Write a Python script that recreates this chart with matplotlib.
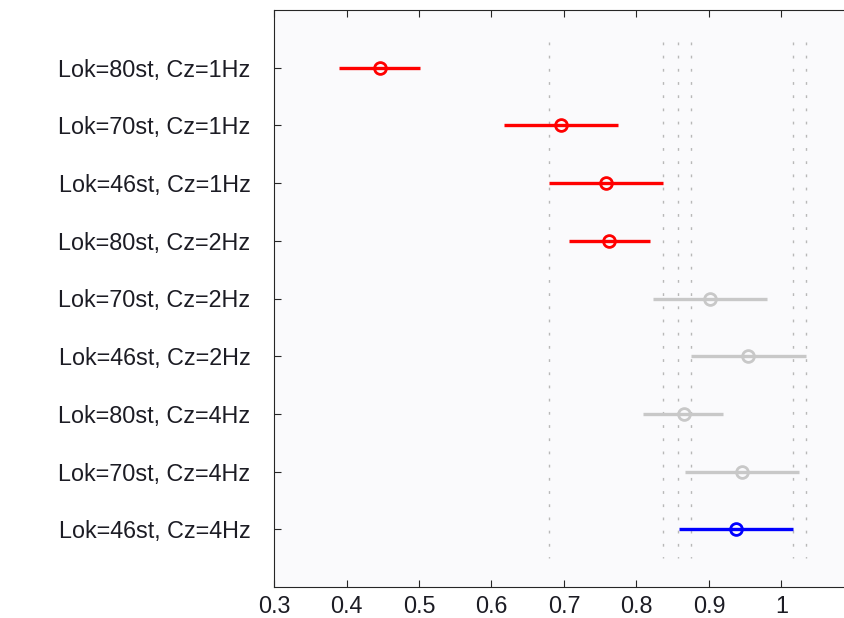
import matplotlib
matplotlib.use("Agg")
import matplotlib.pyplot as plt

# Group labels, top to bottom
groups = [
    "Lok=80st, Cz=1Hz",
    "Lok=70st, Cz=1Hz",
    "Lok=46st, Cz=1Hz",
    "Lok=80st, Cz=2Hz",
    "Lok=70st, Cz=2Hz",
    "Lok=46st, Cz=2Hz",
    "Lok=80st, Cz=4Hz",
    "Lok=70st, Cz=4Hz",
    "Lok=46st, Cz=4Hz",
]
# Estimated group means and comparison interval bounds
means = [0.446, 0.696, 0.758, 0.762, 0.901, 0.954, 0.866, 0.946, 0.937]
lower = [0.390, 0.617, 0.679, 0.707, 0.823, 0.875, 0.809, 0.867, 0.859]
upper = [0.501, 0.774, 0.837, 0.819, 0.980, 1.034, 0.919, 1.024, 1.016]
# Status of each group relative to the selected one
status = ["sig", "sig", "sig", "sig", "ns", "ns", "ns", "ns", "sel"]
# Reference lines (interval ends)
ref_lines = [0.679, 0.837, 0.857, 0.875, 1.016, 1.034]
xticks = [0.3, 0.4, 0.5, 0.6, 0.7, 0.8, 0.9, 1.0]
xtick_labels = ["0.3", "0.4", "0.5", "0.6", "0.7", "0.8", "0.9", "1"]

colors = {"sig": "#ff0000", "ns": "#c8c8c8", "sel": "#0000ff"}

plt.rcParams["font.family"] = ["Liberation Sans", "DejaVu Sans"]

W, H = 845, 618
fig = plt.figure(figsize=(W / 100, H / 100), dpi=100)
ax_left, ax_right = 274, 274 + 580
ax_top, ax_bottom = 10, 587
ax = fig.add_axes([ax_left / W, 1 - ax_bottom / H,
                   (ax_right - ax_left) / W, (ax_bottom - ax_top) / H])
ax.set_facecolor("#fafafc")

n = len(groups)
ypos = list(range(1, n + 1))

for x in ref_lines:
    ax.plot([x, x], [0.55, n + 0.5], color="#b8b8b8", lw=1.0,
            linestyle=(0, (2, 7.5)), zorder=1)

for y, m, lo, hi, s in zip(ypos, means, lower, upper, status):
    c = colors[s]
    ax.plot([lo, hi], [y, y], color=c, lw=2.4, solid_capstyle="butt", zorder=2)
    ax.plot([m], [y], marker="o", markersize=8.5, markerfacecolor="none",
            markeredgecolor=c, markeredgewidth=2.0, zorder=3)

ax.set_xlim(0.3, 1.1)
ax.set_ylim(n + 1, 0)
ax.set_xticks(xticks)
ax.set_xticklabels(xtick_labels)
ax.set_yticks(ypos)
ax.set_yticklabels(groups)

for side in ["left", "bottom", "top"]:
    ax.spines[side].set_color("#262626")
    ax.spines[side].set_linewidth(0.8)
ax.spines["right"].set_visible(False)

ax.tick_params(axis="both", direction="in", length=5, width=0.8,
               color="#262626", labelcolor="#1c1c24", labelsize=16.8,
               top=True, right=False)
ax.tick_params(axis="y", pad=17)
ax.tick_params(axis="x", pad=6)

fig.savefig("out.png", dpi=100, facecolor="white")
